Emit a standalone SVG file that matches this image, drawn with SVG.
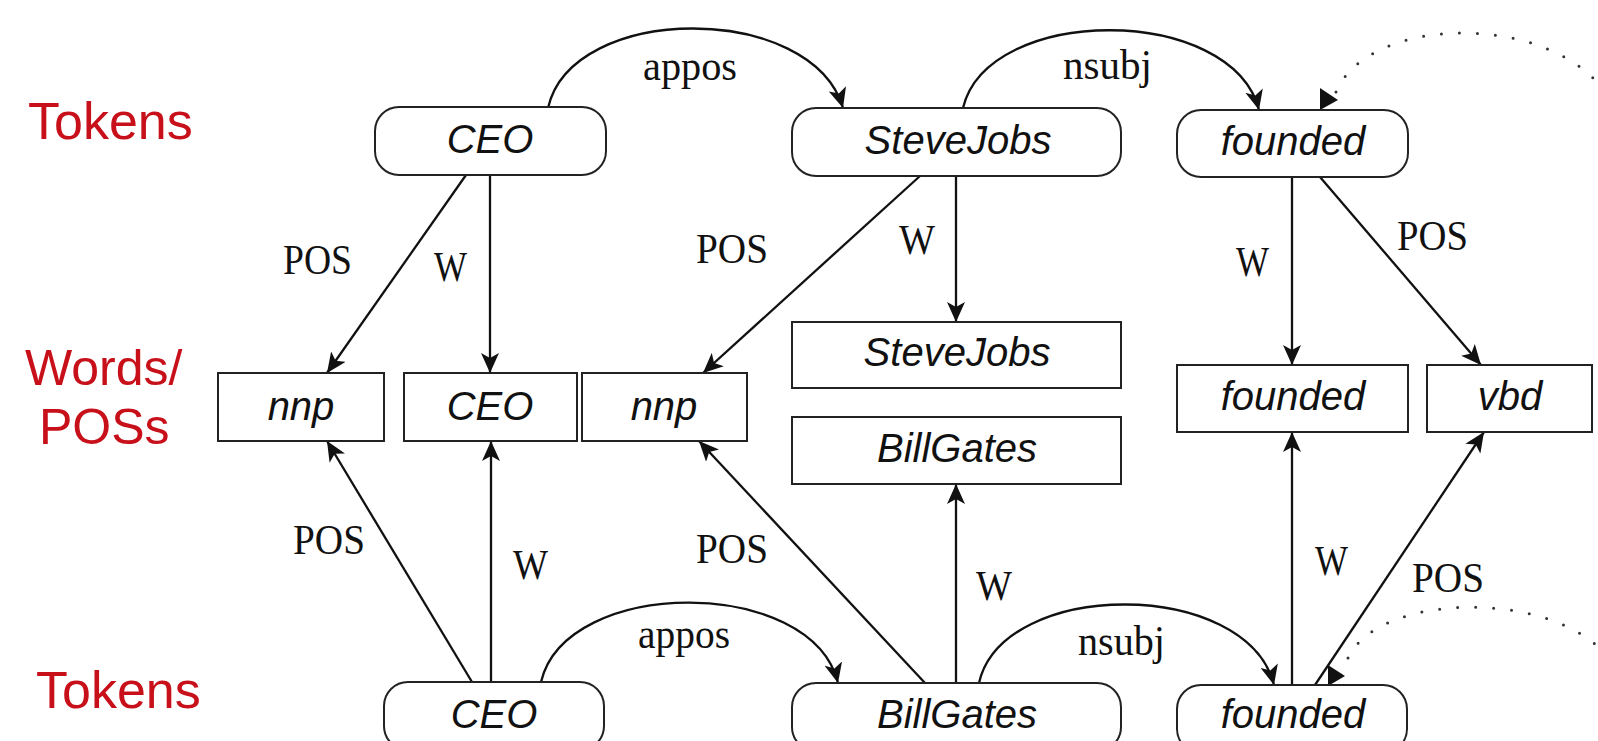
<svg xmlns="http://www.w3.org/2000/svg" width="1598" height="741" viewBox="0 0 1598 741">
<style>
.row{font-family:"Liberation Sans",Arial,sans-serif;font-size:50px;fill:#c8101a}
.row.big{font-size:52px}
.tok{fill:#fff;stroke:#222;stroke-width:2}
.box{fill:#fff;stroke:#222;stroke-width:2}
.nt{font-family:"Liberation Sans",Arial,sans-serif;font-style:italic;font-size:40px;fill:#111;text-anchor:middle}
.lbl{font-family:"Liberation Serif","Times New Roman",serif;font-size:42px;fill:#111}
.edge{fill:none;stroke:#111;stroke-width:2.3;marker-end:url(#arr)}
.dot{fill:none;stroke:#333;stroke-width:3;stroke-linecap:round;stroke-dasharray:0 18}
</style>
<defs>
<marker id="arr" viewBox="0 0 20 18" refX="20" refY="9" markerWidth="20" markerHeight="18" markerUnits="userSpaceOnUse" orient="auto">
<path d="M0,0 L20,9 L0,18 L5,9 z" fill="#111"/>
</marker>
</defs>
<rect width="1598" height="741" fill="#fff"/>
<g id="row-labels">
<text class="row big" x="28" y="139">Tokens</text>
<text class="row" x="25" y="385">Words/</text>
<text class="row" x="39" y="444">POSs</text>
<text class="row big" x="36" y="708">Tokens</text>
</g>
<g id="connectors">
<path class="edge" d="M548,108 C572,2 812,2 843,108"/>
<path class="edge" d="M963,108 C988,4 1232,4 1259,110"/>
<path class="dot" d="M1336,92 C1370,12 1560,12 1610,100"/>
<polygon points="1320,88 1338,100 1320,110" fill="#111"/>
<path class="edge" d="M466,175 L327,373"/>
<path class="edge" d="M490,175 L490,373"/>
<path class="edge" d="M920,176 L703,373"/>
<path class="edge" d="M956,176 L956,322"/>
<path class="edge" d="M1292,177 L1292,365"/>
<path class="edge" d="M1320,177 L1481,365"/>
<path class="edge" d="M472,682 L327,441"/>
<path class="edge" d="M491,682 L491,441"/>
<path class="edge" d="M925,683 L699,441"/>
<path class="edge" d="M956,683 L956,484"/>
<path class="edge" d="M1292,685 L1292,432"/>
<path class="edge" d="M1315,685 L1484,432"/>
<path class="edge" d="M541,682 C566,576 812,576 838,683"/>
<path class="edge" d="M979,683 C1003,578 1247,578 1274,685"/>
<path class="dot" d="M1348,658 C1380,590 1560,590 1610,660"/>
<polygon points="1328,665 1345,676 1328,686" fill="#111"/>
<text class="lbl" x="643" y="80" textLength="94" lengthAdjust="spacingAndGlyphs">appos</text>
<text class="lbl" x="1063" y="79" textLength="89" lengthAdjust="spacingAndGlyphs">nsubj</text>
<text class="lbl" x="283" y="274" textLength="69" lengthAdjust="spacingAndGlyphs">POS</text>
<text class="lbl" x="434" y="281" textLength="33" lengthAdjust="spacingAndGlyphs">W</text>
<text class="lbl" x="696" y="263" textLength="72" lengthAdjust="spacingAndGlyphs">POS</text>
<text class="lbl" x="899" y="254" textLength="36" lengthAdjust="spacingAndGlyphs">W</text>
<text class="lbl" x="1236" y="276" textLength="33" lengthAdjust="spacingAndGlyphs">W</text>
<text class="lbl" x="1397" y="250" textLength="71" lengthAdjust="spacingAndGlyphs">POS</text>
<text class="lbl" x="293" y="554" textLength="72" lengthAdjust="spacingAndGlyphs">POS</text>
<text class="lbl" x="513" y="579" textLength="35" lengthAdjust="spacingAndGlyphs">W</text>
<text class="lbl" x="638" y="648" textLength="92" lengthAdjust="spacingAndGlyphs">appos</text>
<text class="lbl" x="696" y="563" textLength="72" lengthAdjust="spacingAndGlyphs">POS</text>
<text class="lbl" x="976" y="600" textLength="36" lengthAdjust="spacingAndGlyphs">W</text>
<text class="lbl" x="1078" y="655" textLength="87" lengthAdjust="spacingAndGlyphs">nsubj</text>
<text class="lbl" x="1315" y="575" textLength="33" lengthAdjust="spacingAndGlyphs">W</text>
<text class="lbl" x="1412" y="592" textLength="72" lengthAdjust="spacingAndGlyphs">POS</text>
</g>
<g id="tok-ceo-top"><rect class="tok" x="375" y="107" width="231" height="68" rx="24"/><text class="nt" x="490" y="153">CEO</text></g>
<g id="tok-stevejobs-top"><rect class="tok" x="792" y="108" width="329" height="68" rx="24"/><text class="nt" x="958" y="154">SteveJobs</text></g>
<g id="tok-founded-top"><rect class="tok" x="1177" y="110" width="231" height="67" rx="24"/><text class="nt" x="1293" y="155">founded</text></g>
<g id="pos-nnp-1"><rect class="box" x="218" y="373" width="166" height="68"/><text class="nt" x="301" y="420">nnp</text></g>
<g id="word-ceo"><rect class="box" x="404" y="373" width="173" height="68"/><text class="nt" x="490" y="420">CEO</text></g>
<g id="pos-nnp-2"><rect class="box" x="582" y="373" width="165" height="68"/><text class="nt" x="664" y="420">nnp</text></g>
<g id="word-stevejobs"><rect class="box" x="792" y="322" width="329" height="66"/><text class="nt" x="957" y="366">SteveJobs</text></g>
<g id="word-billgates"><rect class="box" x="792" y="417" width="329" height="67"/><text class="nt" x="957" y="462">BillGates</text></g>
<g id="word-founded"><rect class="box" x="1177" y="365" width="231" height="67"/><text class="nt" x="1293" y="410">founded</text></g>
<g id="pos-vbd"><rect class="box" x="1427" y="365" width="165" height="67"/><text class="nt" x="1510" y="410">vbd</text></g>
<g id="tok-ceo-bottom"><rect class="tok" x="384" y="682" width="220" height="68" rx="24"/><text class="nt" x="494" y="728">CEO</text></g>
<g id="tok-billgates-bottom"><rect class="tok" x="792" y="683" width="329" height="68" rx="24"/><text class="nt" x="957" y="728">BillGates</text></g>
<g id="tok-founded-bottom"><rect class="tok" x="1177" y="685" width="230" height="68" rx="24"/><text class="nt" x="1293" y="728">founded</text></g>
</svg>
